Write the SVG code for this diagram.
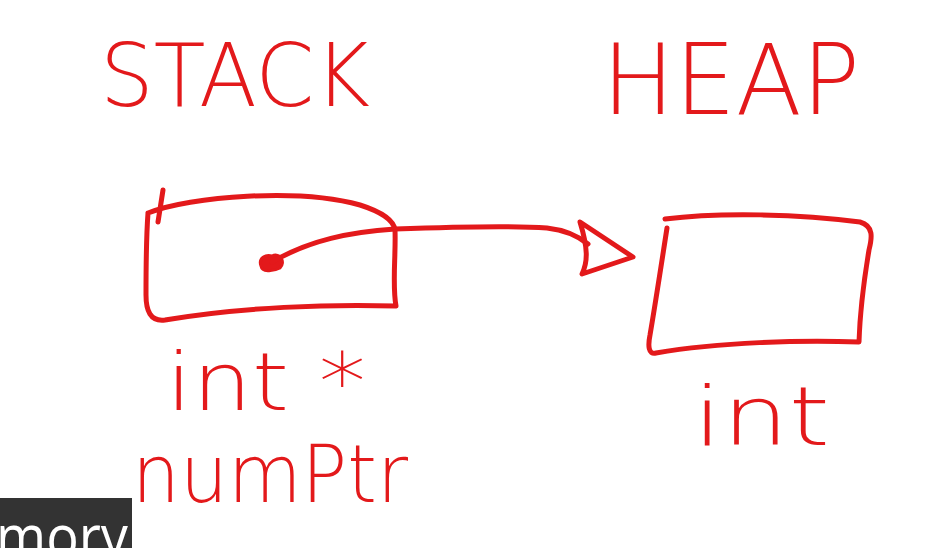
<svg xmlns="http://www.w3.org/2000/svg" width="945" height="548" viewBox="0 0 945 548">
<style>
.ink{fill:none;stroke:#e3191b;stroke-width:5;stroke-linecap:round;stroke-linejoin:round}
.hand{fill:#e3191b;font-family:"DejaVu Sans","Liberation Sans",sans-serif;font-weight:200}
</style>
<rect width="945" height="548" fill="#ffffff"/>
<g id="title-stack"><text class="hand" x="100" y="106" font-size="88" textLength="270" lengthAdjust="spacingAndGlyphs">STACK</text></g>
<g id="title-heap"><text class="hand" x="602" y="114" font-size="98" textLength="258" lengthAdjust="spacingAndGlyphs">HEAP</text></g>
<g id="stack-box">
<path class="ink" d="M163 190 L158 222 M148 213 C190 196 300 188 360 205 C385 213 394 222 395 230 C396 255 392 285 396 306 C330 304 240 307 165 320 C150 322 146 310 146 295 C146 265 146 240 148 213"/>
<text class="hand" x="166" y="410" font-size="80" textLength="200" lengthAdjust="spacingAndGlyphs">int *</text>
<text class="hand" x="132" y="502" font-size="80" textLength="276" lengthAdjust="spacingAndGlyphs">numPtr</text>
</g>
<g id="heap-box">
<path class="ink" d="M665 219 C720 212 800 214 860 222 C874 226 872 238 869 250 C864 280 860 310 859 342 C800 340 720 342 656 353 C648 355 648 345 650 335 C656 300 662 260 667 228"/>
<text class="hand" x="693" y="445" font-size="82" textLength="137" lengthAdjust="spacingAndGlyphs">int</text>
</g>
<g id="connectors">
<path d="M261 266 C258 258 266 254 272 256 C280 252 286 262 280 268 C272 272 262 272 261 266 Z" fill="#e3191b" stroke="#e3191b" stroke-width="3"/>
<path class="ink" d="M272 262 C310 240 350 232 395 229 C450 227 520 226 547 228 C565 230 578 236 588 244"/>
<path class="ink" d="M580 222 L633 257 L582 274 C588 262 588 248 580 222 Z"/>
</g>
<g id="caption">
<rect x="0" y="498" width="132" height="50" fill="#333333"/>
<text x="-4" y="558" font-family="'Open Sans','Liberation Sans',sans-serif" font-size="60" fill="#ffffff" textLength="132" lengthAdjust="spacingAndGlyphs">mory</text>
</g>
</svg>
